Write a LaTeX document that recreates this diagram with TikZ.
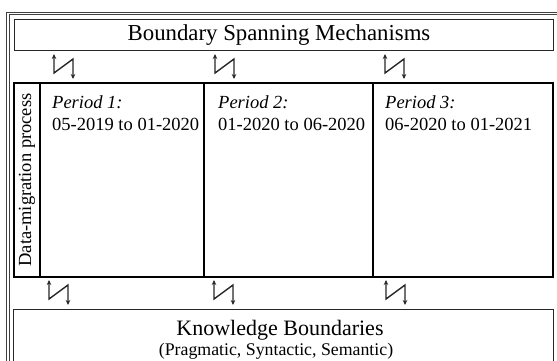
\documentclass[tikz,border=0pt]{standalone}
\usepackage{fontspec}
\setmainfont{Liberation Serif}
\usetikzlibrary{arrows.meta}
\begin{document}
\begin{tikzpicture}[x=1pt,y=-1pt,
  boxline/.style={draw=black!85, line width=1.3pt},
  mainline/.style={draw=black, line width=2.4pt},
  divline/.style={draw=black, line width=1.2pt},
  zig/.style={draw=black!85, line width=1.4pt, {Stealth[length=5pt,width=4.5pt]}-{Stealth[length=5pt,width=4.5pt]}},
  ptitle/.style={font=\fontsize{18.5}{22}\selectfont, align=left, anchor=north west, inner sep=0pt}]
\useasboundingbox (0,0) rectangle (557,360);
\begin{scope}
\clip (0,0) rectangle (557,360);
% outer frame
\draw[black!75, line width=0.8pt] (6,380) -- (6,12) -- (600,12);
\draw[black!75, line width=0.8pt] (9,380) -- (9,14.5) -- (600,14.5);
% top box
\node[boxline, draw, minimum width=539pt, minimum height=31pt, anchor=north west, inner sep=0pt] (bsm) at (14,19) {};
\node[font=\fontsize{22.8}{26}\selectfont] (bsmt) at (279,35) {Boundary Spanning Mechanisms};
% main box
\node[mainline, minimum width=539pt, minimum height=194pt, anchor=north west, inner sep=0pt] (main) at (13,82) {};
\draw[divline] (40,82) -- (40,276);
\draw[divline] (204,82) -- (204,276);
\draw[divline] (373,82) -- (373,276);
\node[rotate=90, font=\fontsize{18.5}{22}\selectfont] (dmp) at (27,180) {Data-migration process};
\node[ptitle] (p1) at (52,95) {\textit{Period 1:}\\05-2019 to 01-2020};
\node[ptitle] (p2) at (218,95) {\textit{Period 2:}\\01-2020 to 06-2020};
\node[ptitle] (p3) at (385,95) {\textit{Period 3:}\\06-2020 to 01-2021};
% bottom box
\node[boxline, minimum width=540pt, minimum height=70pt, anchor=north west, inner sep=0pt] (kb) at (13,309) {};
\node[font=\fontsize{22}{26}\selectfont] (kbt) at (280,330) {Knowledge Boundaries};
\node[font=\fontsize{17.8}{20}\selectfont] (kbs) at (276,351) {(Pragmatic, Syntactic, Semantic)};
% zig arrows top
\foreach \x [count=\i] in {54,215,385} {
  \coordinate (ta\i) at (\x,54);
  \coordinate (tb\i) at (\x,73);
  \coordinate (tc\i) at (\x+19,59);
  \coordinate (td\i) at (\x+19,79);
  \draw[zig] (ta\i) -- (tb\i) -- (tc\i) -- (td\i);
}
\foreach \x [count=\i] in {49,214,386} {
  \coordinate (ba\i) at (\x,280);
  \coordinate (bb\i) at (\x,299);
  \coordinate (bc\i) at (\x+19,285);
  \coordinate (bd\i) at (\x+19,305);
  \draw[zig] (ba\i) -- (bb\i) -- (bc\i) -- (bd\i);
}
\end{scope}
\end{tikzpicture}
\end{document}
